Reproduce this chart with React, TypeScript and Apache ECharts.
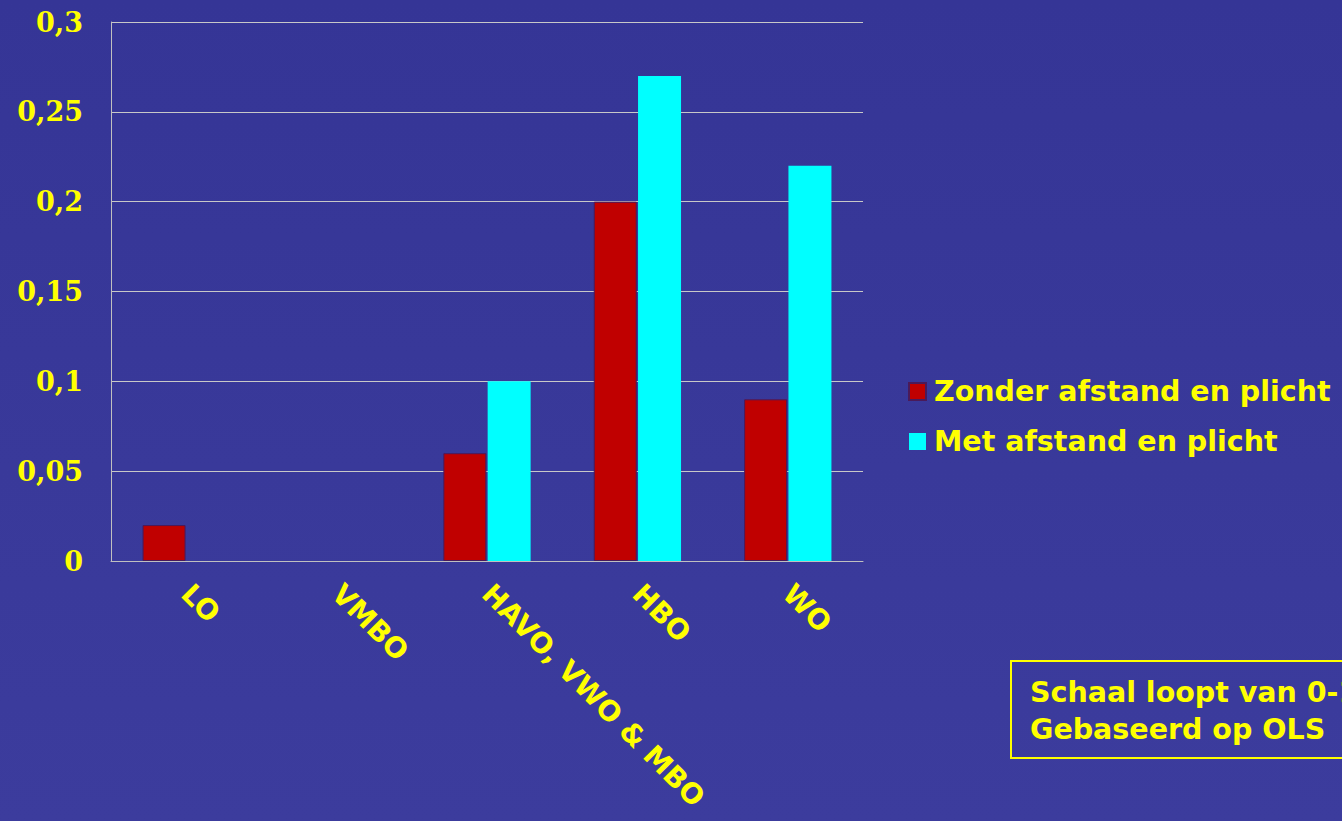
import React, { useEffect, useRef } from "react";
import * as echarts from "echarts";

const categories = ["LO", "VMBO", "HAVO, VWO & MBO", "HBO", "WO"];
const zonder = [0.02, null, 0.06, 0.2, 0.09];
const met = [null, null, 0.1, 0.27, 0.22];
const seriesNames = ["Zonder afstand en plicht", "Met afstand en plicht"];
const noteLines = ["Schaal loopt van 0-1", "Gebaseerd op OLS"];

export default function App() {
  const ref = useRef<HTMLDivElement>(null);
  useEffect(() => {
    document.body.style.margin = "0";
    const chart = echarts.init(ref.current!, undefined, { renderer: "svg" });
    const yellow = "#ffff00";
    chart.setOption({
      animation: false,
      backgroundColor: {
        type: "linear", x: 0, y: 0, x2: 0, y2: 1,
        colorStops: [
          { offset: 0, color: "#353596" },
          { offset: 1, color: "#3c3c9d" },
        ],
      },
      grid: { left: 111, right: 1342 - 863, top: 22, bottom: 821 - 561, containLabel: false },
      legend: {
        orient: "vertical",
        left: 908,
        top: 377,
        padding: 0,
        itemWidth: 17,
        itemHeight: 17,
        itemGap: 21,
        icon: "rect",
        textStyle: { color: yellow, fontFamily: "DejaVu Sans", fontWeight: "bold", fontSize: 28.5, padding: [0, 0, 0, 3] },
        data: seriesNames,
      },
      xAxis: {
        type: "category",
        data: categories,
        axisLine: { lineStyle: { color: "#c0c0c0", width: 1 } },
        axisTick: { show: false },
        axisLabel: {
          rotate: -45,
          margin: 28,
          color: yellow,
          fontFamily: "DejaVu Sans",
          fontWeight: "bold",
          fontSize: 28,
          interval: 0,
        },
      },
      yAxis: {
        type: "value",
        min: 0,
        max: 0.3,
        interval: 0.05,
        axisLine: { show: true, lineStyle: { color: "#c0c0c0", width: 1 } },
        axisTick: { show: false },
        splitLine: { lineStyle: { color: "#c8c8c8", width: 1 } },
        axisLabel: {
          margin: 28,
          color: yellow,
          fontFamily: "DejaVu Serif",
          fontWeight: "bold",
          fontSize: 27,
          formatter: (v: number) => (v === 0 ? "0" : String(+v.toFixed(2)).replace(".", ",")),
        },
      },
      series: [
        {
          name: seriesNames[0],
          type: "bar",
          data: zonder,
          barWidth: 43,
          barGap: "3%",
          itemStyle: { color: "#c00000", borderColor: "#4a1a5a", borderWidth: 1 },
        },
        {
          name: seriesNames[1],
          type: "bar",
          data: met,
          barWidth: 43,
          itemStyle: { color: "#00ffff" },
        },
      ],
      graphic: [
        {
          type: "rect",
          shape: { x: 1011, y: 661, width: 360, height: 97 },
          style: { fill: "transparent", stroke: yellow, lineWidth: 2 },
        },
        {
          type: "text",
          x: 1030,
          y: 674,
          style: {
            text: noteLines.join("\n"),
            fill: yellow,
            font: "bold 28.5px 'DejaVu Sans'",
            lineHeight: 37,
          },
        },
      ],
    });
    return () => chart.dispose();
  }, []);
  return <div ref={ref} style={{ position: "fixed", left: 0, top: 0, width: 1342, height: 821 }} />;
}
